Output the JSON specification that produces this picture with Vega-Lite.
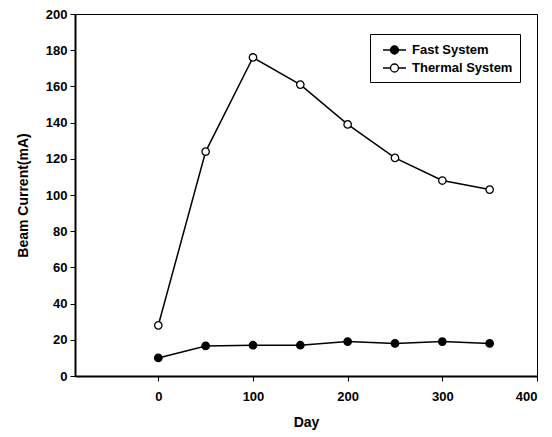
{
  "$schema": "https://vega.github.io/schema/vega-lite/v6.json",
  "autosize": "none",
  "width": 462,
  "height": 362,
  "padding": {"left": 75, "top": 14, "right": 15, "bottom": 61},
  "background": "white",
  "config": {
    "font": "Liberation Sans",
    "view": {"stroke": "black", "strokeWidth": 1},
    "axis": {
      "domainColor": "black", "domainWidth": 2,
      "tickColor": "black", "tickSize": 5, "tickWidth": 1,
      "labelColor": "black", "labelFont": "Liberation Sans", "labelFontSize": 13, "labelFontWeight": "bold",
      "titleColor": "black", "titleFont": "Liberation Sans", "titleFontSize": 14, "titleFontWeight": "bold",
      "grid": false
    }
  },
  "data": {
    "values": [
      {"day": 0, "current": 10, "system": "Fast System"},
      {"day": 50, "current": 16.6, "system": "Fast System"},
      {"day": 100, "current": 17, "system": "Fast System"},
      {"day": 150, "current": 17, "system": "Fast System"},
      {"day": 200, "current": 19, "system": "Fast System"},
      {"day": 250, "current": 18, "system": "Fast System"},
      {"day": 300, "current": 19, "system": "Fast System"},
      {"day": 350, "current": 18, "system": "Fast System"},
      {"day": 0, "current": 28, "system": "Thermal System"},
      {"day": 50, "current": 124, "system": "Thermal System"},
      {"day": 100, "current": 176, "system": "Thermal System"},
      {"day": 150, "current": 161, "system": "Thermal System"},
      {"day": 200, "current": 139, "system": "Thermal System"},
      {"day": 250, "current": 120.5, "system": "Thermal System"},
      {"day": 300, "current": 108, "system": "Thermal System"},
      {"day": 350, "current": 103, "system": "Thermal System"}
    ]
  },
  "encoding": {
    "x": {"field": "day", "type": "quantitative", "title": "Day",
      "scale": {"domain": [-88, 400], "nice": false, "zero": false},
      "axis": {"values": [0, 100, 200, 300, 400], "labelPadding": 9, "titlePadding": 12}},
    "y": {"field": "current", "type": "quantitative", "title": "Beam Current(mA)",
      "scale": {"domain": [0, 200], "nice": false},
      "axis": {"values": [0, 20, 40, 60, 80, 100, 120, 140, 160, 180, 200], "labelPadding": 3, "titlePadding": 15}}
  },
  "layer": [
    {
      "mark": {"type": "line", "color": "black", "strokeWidth": 1.5},
      "encoding": {"detail": {"field": "system"}}
    },
    {
      "mark": {"type": "point", "filled": true, "stroke": "black", "strokeWidth": 1.3, "size": 55, "opacity": 1, "shape": "circle"},
      "encoding": {
        "fill": {"field": "system", "type": "nominal",
          "scale": {"domain": ["Fast System", "Thermal System"], "range": ["black", "white"]},
          "legend": {
            "title": null, "orient": "none", "legendX": 295, "legendY": 20,
            "strokeColor": "black", "padding": 7,
            "symbolType": "M-0.375,0H0.56M1.56,0H2.5M0.56,0A0.5,0.5 0 1,0 1.56,0A0.5,0.5 0 1,0 0.56,0Z",
            "symbolSize": 256, "symbolStrokeColor": "black", "symbolStrokeWidth": 1.3,
            "labelFont": "Liberation Sans", "labelFontSize": 13, "labelFontWeight": "bold", "labelColor": "black",
            "rowPadding": 2, "labelOffset": 17
          }}
      }
    }
  ]
}
